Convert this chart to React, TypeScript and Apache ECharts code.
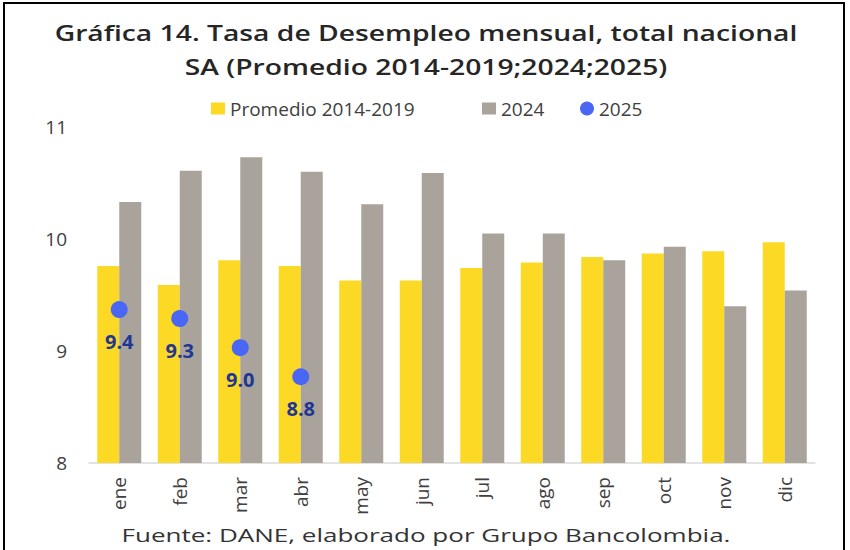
import React, { useEffect, useRef } from "react";
import * as echarts from "echarts";

const months = ["ene", "feb", "mar", "abr", "may", "jun", "jul", "ago", "sep", "oct", "nov", "dic"];
const promedio = [9.76, 9.59, 9.81, 9.76, 9.63, 9.63, 9.74, 9.79, 9.84, 9.87, 9.89, 9.97];
const y2024 = [10.33, 10.61, 10.73, 10.6, 10.31, 10.59, 10.05, 10.05, 9.81, 9.93, 9.4, 9.54];
const y2025 = [9.37, 9.29, 9.03, 8.77];
const yTicks = [8, 9, 10, 11];
const seriesNames = ["Promedio 2014-2019", "2024", "2025"];

const titleLines = ["Gráfica 14. Tasa de Desempleo mensual, total nacional", "SA (Promedio 2014-2019;2024;2025)"];
const footer = "Fuente: DANE, elaborado por Grupo Bancolombia.";

export default function App() {
  const ref = useRef<HTMLDivElement>(null);
  useEffect(() => {
    const chart = echarts.init(ref.current!, null, { renderer: "svg" });
    const font = "'Open Sans', sans-serif";
    const legendText = { fontFamily: font, fontSize: 19, color: "#404040" };
    const legendLefts = [211, 482, 580];
    const legendIcons = ["rect", "rect", "circle"];
    const centered = { align: "center", verticalAlign: "middle", textAlign: "center", textVerticalAlign: "middle" };
    chart.setOption({
      animation: false,
      backgroundColor: "#ffffff",
      textStyle: { fontFamily: font },
      legend: seriesNames.map((n, i) => ({
        top: 99,
        left: legendLefts[i],
        itemWidth: 14,
        itemHeight: i === 2 ? 14 : 12,
        itemGap: 0,
        padding: 0,
        textStyle: legendText,
        data: [{ name: n, icon: legendIcons[i] }],
      })),
      grid: { left: 89, right: 35, top: 127, bottom: 87 },
      xAxis: {
        type: "category",
        data: months,
        axisLine: { lineStyle: { color: "#d9d9d9", width: 1.5 } },
        axisTick: { show: false },
        axisLabel: { rotate: 90, fontSize: 19, color: "#404040", margin: 14, fontFamily: font },
      },
      yAxis: {
        type: "value",
        min: yTicks[0],
        max: yTicks[yTicks.length - 1],
        interval: 1,
        splitLine: { show: false },
        axisLine: { show: false },
        axisTick: { show: false },
        axisLabel: { fontSize: 19, color: "#404040", margin: 22, fontFamily: font },
      },
      series: [
        {
          name: seriesNames[0],
          type: "bar",
          data: promedio,
          barWidth: 22,
          barGap: "0%",
          itemStyle: { color: "#FCD924" },
        },
        {
          name: seriesNames[1],
          type: "bar",
          data: y2024,
          barWidth: 22,
          barGap: "0%",
          itemStyle: { color: "#AAA39C" },
        },
        {
          name: seriesNames[2],
          type: "scatter",
          data: y2025,
          symbolSize: 17,
          itemStyle: { color: "#4A66F5", opacity: 1 },
          label: {
            show: true,
            position: "bottom",
            distance: 13,
            formatter: (p: any) => p.value.toFixed(1),
            fontSize: 20,
            fontWeight: "bold",
            color: "#1F3793",
            fontFamily: font,
          },
          z: 5,
        },
      ],
      graphic: [
        {
          type: "rect",
          shape: { x: 4, y: 3, width: 840, height: 600 },
          style: { fill: "none", stroke: "#000", lineWidth: 2 },
          silent: true,
        },
        {
          type: "text",
          x: 426,
          y: 32,
          scaleX: 1.285,
          style: { ...centered, text: titleLines[0], fontSize: 22, fontWeight: 600, fill: "#262626", fontFamily: font },
        },
        {
          type: "text",
          x: 426,
          y: 66,
          scaleX: 1.285,
          style: { ...centered, text: titleLines[1], fontSize: 22, fontWeight: 600, fill: "#262626", fontFamily: font },
        },
        {
          type: "text",
          x: 426,
          y: 535,
          scaleX: 1.37,
          style: { ...centered, text: footer, fontSize: 19, fill: "#333333", fontFamily: font },
        },
      ],
    });
    return () => chart.dispose();
  }, []);
  return <div ref={ref} style={{ position: "absolute", left: 0, top: 0, width: 850, height: 550 }} />;
}
